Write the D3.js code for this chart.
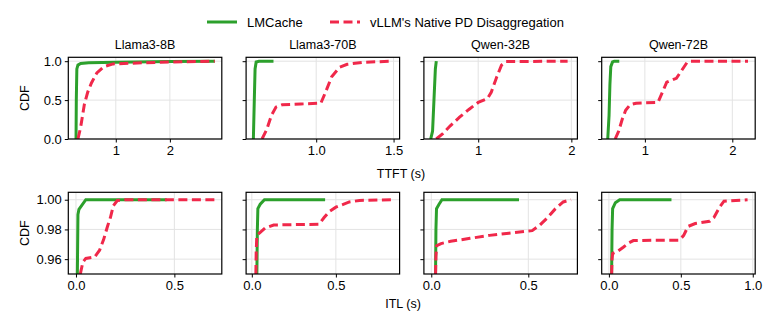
<!DOCTYPE html>
<html>
<head>
<meta charset="utf-8">
<script src="https://cdn.jsdelivr.net/npm/d3@7"></script>
<style>
  body { margin: 0; background: #fff; }
  svg { display: block; font-family: "Liberation Sans", Arial, sans-serif; }
  .tick text { font-size: 13px; fill: #000; }
  .domain { display: none; }
  .tick line { stroke: #000; stroke-width: 1; }
  .grid line { stroke: #e3e3e3; stroke-width: 1; }
</style>
</head>
<body>
<script>
// model names (panel titles)
var models = ['Llama3-8B', 'Llama3-70B', 'Qwen-32B', 'Qwen-72B'];
var seriesNames = ['LMCache', "vLLM's Native PD Disaggregation"];

// TTFT CDF curves, [seconds, cdf]
var ttftLMCache = [
	[[0.265, 0], [0.27, 0.5], [0.28, 0.9], [0.3, 0.95], [0.35, 0.97], [0.5, 0.98], [1.0, 0.985], [2.0, 0.995], [2.83, 1.0]],
	[[0.594, 0], [0.6, 0.5], [0.605, 0.9], [0.612, 0.99], [0.63, 1.0], [0.724, 1.0]],
	[[0.49, 0], [0.51, 0.1], [0.525, 0.5], [0.54, 0.9], [0.55, 1.0]],
	[[0.575, 0], [0.59, 0.3], [0.6, 0.7], [0.61, 0.93], [0.63, 0.99], [0.65, 1.0], [0.707, 1.0]]
];
var ttftVllm = [
	[[0.3, 0], [0.35, 0.15], [0.42, 0.45], [0.48, 0.6], [0.55, 0.72], [0.65, 0.85], [0.78, 0.93], [0.95, 0.965], [1.5, 0.98], [2.0, 0.99], [2.83, 1.0]],
	[[0.65, 0], [0.68, 0.12], [0.71, 0.3], [0.74, 0.41], [0.78, 0.44], [0.9, 0.45], [1.03, 0.46], [1.06, 0.6], [1.1, 0.8], [1.15, 0.92], [1.2, 0.96], [1.3, 0.985], [1.49, 1.0]],
	[[0.55, 0], [0.62, 0.07], [0.7, 0.17], [0.8, 0.28], [0.9, 0.38], [1.0, 0.47], [1.1, 0.52], [1.14, 0.6], [1.2, 0.8], [1.25, 0.95], [1.3, 0.995], [1.96, 1.0]],
	[[0.66, 0], [0.7, 0.1], [0.74, 0.25], [0.78, 0.37], [0.83, 0.44], [0.9, 0.46], [1.15, 0.47], [1.2, 0.6], [1.25, 0.73], [1.36, 0.78], [1.42, 0.88], [1.48, 0.98], [1.52, 1.0], [2.18, 1.0]]
];

// ITL CDF curves, [seconds, cdf]
var itlLMCache = [
	[[0.007, 0.95], [0.01, 0.99], [0.015, 0.9935], [0.05, 1.0], [0.461, 1.0]],
	[[0.03, 0.95], [0.033, 0.98], [0.036, 0.994], [0.05, 0.997], [0.075, 1.0], [0.436, 1.0]],
	[[0.022, 0.95], [0.024, 0.98], [0.027, 0.994], [0.04, 0.997], [0.055, 1.0], [0.452, 1.0]],
	[[0.019, 0.95], [0.022, 0.98], [0.026, 0.994], [0.045, 0.998], [0.075, 1.0], [0.435, 1.0]]
];
var itlVllm = [
	[[0.022, 0.95], [0.035, 0.958], [0.05, 0.9605], [0.095, 0.9615], [0.12, 0.966], [0.14, 0.973], [0.16, 0.982], [0.175, 0.988], [0.19, 0.996], [0.21, 0.9995], [0.25, 1.0], [0.707, 1.0]],
	[[0.024, 0.95], [0.026, 0.965], [0.03, 0.976], [0.05, 0.978], [0.08, 0.981], [0.13, 0.983], [0.4, 0.9835], [0.43, 0.988], [0.46, 0.992], [0.5, 0.995], [0.58, 0.9985], [0.64, 0.9995], [0.843, 1.0]],
	[[0.022, 0.95], [0.024, 0.962], [0.028, 0.969], [0.05, 0.9705], [0.1, 0.972], [0.2, 0.974], [0.3, 0.976], [0.4, 0.9775], [0.52, 0.9792], [0.56, 0.983], [0.6, 0.988], [0.64, 0.994], [0.68, 0.9985], [0.72, 1.0]],
	[[0.019, 0.95], [0.022, 0.96], [0.026, 0.9638], [0.06, 0.9652], [0.1, 0.968], [0.14, 0.971], [0.17, 0.9725], [0.3, 0.9727], [0.49, 0.9728], [0.52, 0.976], [0.55, 0.982], [0.6, 0.984], [0.7, 0.9855], [0.73, 0.988], [0.77, 0.995], [0.8, 0.999], [0.964, 1.0]]
];

// axis ranges and ticks
var ttftXDomains = [[0.122, 2.96], [0.547, 1.539], [0.417, 2.065], [0.506, 2.262]];
var itlXDomains = [[-0.039, 0.741], [-0.034, 0.879], [-0.038, 0.753], [-0.05, 1.017]];
var ttftXTicks = [[1, 2], [1.0, 1.5], [1, 2], [1, 2]];
var itlXTicks = [[0, 0.5], [0, 0.5], [0, 0.5], [0, 0.5, 1.0]];
var ttftYTicks = [0, 0.5, 1.0];
var itlYTicks = [0.96, 0.98, 1.00];

var green = '#2ca02c', red = '#f0284a';

var width = 775, height = 323;
var panelW = 153.5, panelStep = 177.8, left0 = 68.3;

var rows = [
	{ top: 57.3, bottom: 139, yDomain: [0, 1.05], yTicks: ttftYTicks, yFmt: d3.format('.1f'),
		xDomains: ttftXDomains, xTicks: ttftXTicks, lm: ttftLMCache, vl: ttftVllm, titles: true },
	{ top: 192.3, bottom: 274, yDomain: [0.95, 1.005], yTicks: itlYTicks, yFmt: d3.format('.2f'),
		xDomains: itlXDomains, xTicks: itlXTicks, lm: itlLMCache, vl: itlVllm, titles: false }
];

var svg = d3.select('body').append('svg')
	.attr('width', width)
	.attr('height', height);

rows.forEach(function (row, r) {
	var y = d3.scaleLinear().domain(row.yDomain).range([row.bottom, row.top]);

	models.forEach(function (m, i) {
		var x0 = left0 + i * panelStep;
		var x = d3.scaleLinear().domain(row.xDomains[i]).range([x0, x0 + panelW]);
		var ticks = row.xTicks[i];
		var xFmt = (r === 0 && i !== 1) ? d3.format('d') : d3.format('.1f');

		var g = svg.append('g');

		// grid
		var grid = g.append('g').attr('class', 'grid');
		grid.selectAll('.gx').data(ticks).enter().append('line')
			.attr('x1', function (d) { return x(d); }).attr('x2', function (d) { return x(d); })
			.attr('y1', row.top).attr('y2', row.bottom);
		grid.selectAll('.gy').data(row.yTicks).enter().append('line')
			.attr('x1', x0).attr('x2', x0 + panelW)
			.attr('y1', function (d) { return y(d); }).attr('y2', function (d) { return y(d); });

		// clip
		var clipId = 'clip' + r + '_' + i;
		svg.append('clipPath').attr('id', clipId).append('rect')
			.attr('x', x0).attr('y', row.top - 2).attr('width', panelW).attr('height', row.bottom - row.top + 2);

		var line = d3.line().x(function (d) { return x(d[0]); }).y(function (d) { return y(d[1]); });

		g.append('path').datum(row.lm[i])
			.attr('d', line).attr('fill', 'none')
			.attr('stroke', green).attr('stroke-width', 3)
			.attr('clip-path', 'url(#' + clipId + ')');
		g.append('path').datum(row.vl[i])
			.attr('d', line).attr('fill', 'none')
			.attr('stroke', red).attr('stroke-width', 3)
			.attr('stroke-dasharray', '9,4.5')
			.attr('clip-path', 'url(#' + clipId + ')');

		// axes
		g.append('g').attr('transform', 'translate(0,' + row.bottom + ')')
			.call(d3.axisBottom(x).tickValues(ticks).tickFormat(xFmt).tickSize(3.5).tickPadding(3));
		var ya = d3.axisLeft(y).tickValues(row.yTicks).tickSize(3.5).tickPadding(3)
			.tickFormat(i === 0 ? row.yFmt : '');
		g.append('g').attr('transform', 'translate(' + x0 + ',0)').call(ya);

		// frame
		g.append('rect').attr('x', x0).attr('y', row.top).attr('width', panelW).attr('height', row.bottom - row.top)
			.attr('fill', 'none').attr('stroke', '#000').attr('stroke-width', 1.2);

		if (row.titles) {
			svg.append('text').attr('x', x0 + panelW / 2).attr('y', 49)
				.attr('text-anchor', 'middle').attr('font-size', 12.5).text(m);
		}
	});

	// y label
	var cy = (row.top + row.bottom) / 2;
	svg.append('text').attr('transform', 'translate(29,' + cy + ') rotate(-90)')
		.attr('text-anchor', 'middle').attr('font-size', 12.5).text('CDF');
});

svg.append('text').attr('x', 401).attr('y', 178).attr('text-anchor', 'middle').attr('font-size', 12.5).text('TTFT (s)');
svg.append('text').attr('x', 403).attr('y', 308).attr('text-anchor', 'middle').attr('font-size', 12.5).text('ITL (s)');

// legend
var legend = svg.append('g');
var legendX = [207, 330];
seriesNames.forEach(function (name, k) {
	legend.append('line')
		.attr('x1', legendX[k]).attr('x2', legendX[k] + 30)
		.attr('y1', 22).attr('y2', 22)
		.attr('stroke', k === 0 ? green : red).attr('stroke-width', 3)
		.attr('stroke-dasharray', k === 0 ? null : '9,4.5');
	legend.append('text').attr('x', legendX[k] + 40).attr('y', 26.5)
		.attr('font-size', 13).text(name);
});
</script>
</body>
</html>
